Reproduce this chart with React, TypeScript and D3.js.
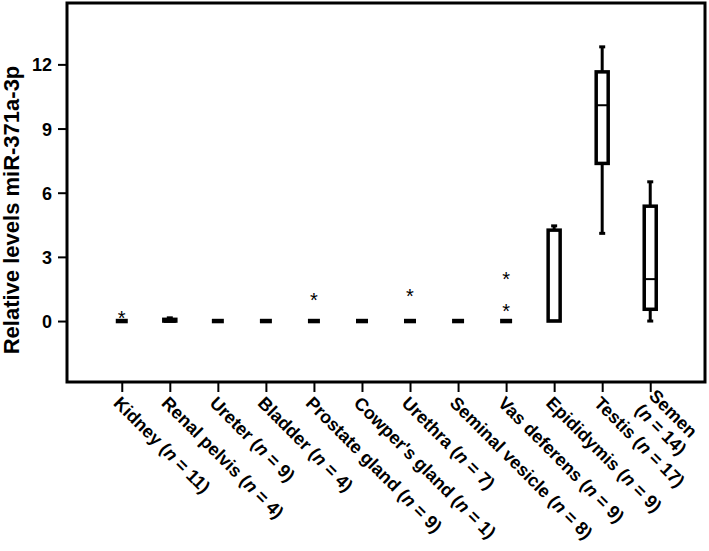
import { useRef, useEffect } from 'react';
import * as d3 from 'd3';

const categories = ['Kidney', 'Renal pelvis', 'Ureter', 'Bladder', 'Prostate gland', "Cowper's gland",
  'Urethra', 'Seminal vesicle', 'Vas deferens', 'Epididymis', 'Testis', 'Semen'];
const sampleN = [11, 4, 9, 4, 9, 1, 7, 8, 9, 9, 17, 14];
const twoLineLabels = ['Semen'];

// five-number summaries
const mins = [0, 0, 0, 0, 0, 0, 0, 0, 0, 0, 4.1, 0];
const q1s = [0, 0, 0, 0, 0, 0, 0, 0, 0, 0, 7.37, 0.55];
const medians = [0, 0.02, 0, 0, 0, 0, 0, 0, 0, 0.02, 10.09, 1.96];
const q3s = [0, 0.08, 0, 0, 0, 0, 0, 0, 0, 4.25, 11.65, 5.37];
const maxs = [0, 0.15, 0, 0, 0, 0, 0, 0, 0, 4.45, 12.82, 6.51];

// extreme values (drawn as *)
const extremeCats = ['Kidney', 'Prostate gland', 'Urethra', 'Vas deferens', 'Vas deferens'];
const extremeVals = [0.31, 1.18, 1.37, 2.15, 0.67];

const yTicks = [0, 3, 6, 9, 12];
const yDomain = [-2.85, 14.87];

const WIDTH = 709, HEIGHT = 551;
const FONT = 'Liberation Sans, Arial, Helvetica, sans-serif';

export default function App() {
  const svgRef = useRef<SVGSVGElement>(null);

  useEffect(() => {
    const m = { top: 3, right: 4, bottom: 169, left: 67 };
    const W = WIDTH - m.left - m.right;
    const H = HEIGHT - m.top - m.bottom;

    const x = d3.scalePoint<string>().domain(categories).range([0, W]).padding(1.14);
    const y = d3.scaleLinear().domain(yDomain).range([H, 0]);

    const svg = d3.select(svgRef.current);
    svg.selectAll('*').remove();
    const g = svg.append('g').attr('transform', `translate(${m.left},${m.top})`);

    // frame
    g.append('rect').attr('width', W).attr('height', H)
      .attr('fill', 'none').attr('stroke', '#000').attr('stroke-width', 3);

    // y axis
    const ya = g.append('g').call(d3.axisLeft(y).tickValues(yTicks).tickSize(9).tickPadding(6));
    ya.select('.domain').remove();
    ya.selectAll('.tick line').attr('stroke', '#000').attr('stroke-width', 2);
    ya.selectAll('.tick text').attr('fill', '#000').attr('font-size', 18).attr('font-weight', 'bold')
      .attr('font-family', FONT).attr('dy', '0.36em');

    // x axis ticks
    const xa = g.append('g').attr('transform', `translate(0,${H})`)
      .call(d3.axisBottom(x).tickSize(10).tickFormat(() => ''));
    xa.select('.domain').remove();
    xa.selectAll('.tick line').attr('stroke', '#000').attr('stroke-width', 2);

    // x labels, rotated 45°
    const fs = 18, lh = 20;
    const lab = g.append('g').attr('font-family', FONT).attr('font-size', fs).attr('font-weight', 'bold')
      .attr('fill', '#000');
    categories.forEach((c, i) => {
      const two = twoLineLabels.includes(c);
      const t = lab.append('text')
        .attr('transform', `translate(${x(c)},${H + 13}) rotate(45)`)
        .attr('y', 13 - (two ? lh / 2 : 0));
      if (two) {
        t.append('tspan').attr('x', 0).text(c);
        t.append('tspan').attr('x', 0).attr('dy', lh).text('(');
      } else {
        t.append('tspan').text(`${c} (`);
      }
      t.append('tspan').attr('font-style', 'italic').text('n');
      t.append('tspan').text(` = ${sampleN[i]})`);
    });

    // y title
    g.append('text')
      .attr('transform', `translate(${18.5 - m.left},${210 - m.top}) rotate(-90)`)
      .attr('text-anchor', 'middle').attr('font-family', FONT).attr('font-size', 22)
      .attr('font-weight', 'bold').attr('fill', '#000')
      .text('Relative levels miR-371a-3p');

    // boxes
    const bw = 12, cw = 6;
    const boxes = g.append('g').attr('stroke', '#000').attr('stroke-width', 3).attr('fill', 'none');
    categories.forEach((c, i) => {
      const cx = x(c)!;
      if (maxs[i] > q3s[i]) {
        boxes.append('line').attr('x1', cx).attr('x2', cx).attr('y1', y(q3s[i])).attr('y2', y(maxs[i]));
        boxes.append('line').attr('x1', cx - cw / 2).attr('x2', cx + cw / 2).attr('y1', y(maxs[i])).attr('y2', y(maxs[i]));
      }
      if (mins[i] < q1s[i]) {
        boxes.append('line').attr('x1', cx).attr('x2', cx).attr('y1', y(q1s[i])).attr('y2', y(mins[i]));
        boxes.append('line').attr('x1', cx - cw / 2).attr('x2', cx + cw / 2).attr('y1', y(mins[i])).attr('y2', y(mins[i]));
      }
      boxes.append('rect').attr('x', cx - bw / 2).attr('width', bw)
        .attr('y', y(q3s[i])).attr('height', Math.max(0, y(q1s[i]) - y(q3s[i])))
        .attr('fill', '#fff').attr('stroke-width', 3.5);
      boxes.append('line').attr('x1', cx - bw / 2).attr('x2', cx + bw / 2)
        .attr('y1', y(medians[i])).attr('y2', y(medians[i]))
        .attr('stroke-width', q3s[i] - q1s[i] < 0.1 ? 4.5 : 2);
    });

    // extremes
    g.append('g').selectAll('text').data(extremeVals).join('text')
      .attr('x', (_, i) => x(extremeCats[i])!)
      .attr('y', d => y(d) + 11)
      .attr('text-anchor', 'middle').attr('font-family', FONT).attr('font-size', 20).attr('fill', '#000')
      .text('*');
  }, []);

  return (
    <svg ref={svgRef} width={WIDTH} height={HEIGHT}
      style={{ position: 'absolute', left: 0, top: 0, background: '#fff' }} />
  );
}
